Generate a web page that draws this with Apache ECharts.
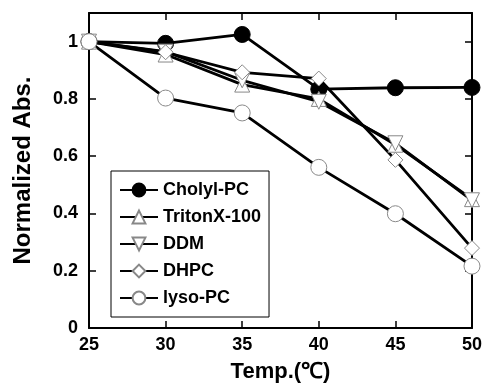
<!DOCTYPE html>
<html><head><meta charset="utf-8">
<script src="https://cdn.jsdelivr.net/npm/echarts@6/dist/echarts.min.js"></script>
<style>html,body{margin:0;padding:0;background:#fff}#c{width:485px;height:388px}</style>
</head><body><div id="c"></div>
<script>
const temps = [25, 30, 35, 40, 45, 50];
const cholylPC = [1.0, 0.994, 1.025, 0.834, 0.839, 0.84];
const tritonX100 = [1.0, 0.955, 0.85, 0.80, 0.64, 0.45];
const ddm = [1.0, 0.965, 0.865, 0.79, 0.645, 0.446];
const dhpc = [1.0, 0.963, 0.893, 0.871, 0.587, 0.279];
const lysoPC = [1.0, 0.803, 0.751, 0.561, 0.399, 0.216];
const seriesNames = ['Cholyl-PC', 'TritonX-100', 'DDM', 'DHPC', 'lyso-PC'];
const font = 'Liberation Sans, Arial, sans-serif';

function mk(name, vals, symbol, size, filled) {
  return {
    name: name, type: 'line', data: temps.map((t, i) => [t, vals[i]]),
    symbol: symbol, symbolSize: size,
    lineStyle: { color: '#000', width: 2.8 },
    itemStyle: filled ? { color: '#000', borderColor: '#000', borderWidth: 1 }
                      : { color: '#fff', borderColor: '#888', borderWidth: 1 },
    emphasis: { disabled: true }, animation: false
  };
}
const chart = echarts.init(document.getElementById('c'));
const axisLine = { show: true, onZero: false, lineStyle: { color: '#000', width: 2 } };
const tick = { show: true, inside: true, length: 7, lineStyle: { color: '#000', width: 1.5 } };
chart.setOption({
  animation: false,
  grid: { left: 89, right: 13, top: 13, bottom: 55 },
  legend: {
    left: 111, top: 171, orient: 'vertical', itemGap: 9, itemWidth: 38, itemHeight: 16,
    borderColor: '#000', borderWidth: 1, padding: [10, 8, 10, 8],
    data: seriesNames,
    textStyle: { fontFamily: font, fontWeight: 'bold', fontSize: 18, color: '#000' }
  },
  xAxis: [
    { type: 'value', min: 25, max: 50, interval: 5, axisLine: axisLine, axisTick: tick,
      axisLabel: { fontFamily: font, fontWeight: 'bold', fontSize: 18, color: '#000', margin: 8 },
      splitLine: { show: false },
      name: 'Temp.(℃)', nameLocation: 'middle', nameGap: 33,
      nameTextStyle: { fontFamily: font, fontWeight: 'bold', fontSize: 22, color: '#000' } },
    { type: 'value', position: 'top', min: 25, max: 50, interval: 5, axisLine: axisLine, axisTick: tick,
      axisLabel: { show: false }, splitLine: { show: false } }
  ],
  yAxis: [
    { type: 'value', min: 0, max: 1.1, interval: 0.2, axisLine: axisLine, axisTick: tick,
      axisLabel: { fontFamily: font, fontWeight: 'bold', fontSize: 18, color: '#000', margin: 11,
        formatter: v => v > 1.05 ? '' : (Math.abs(v - 1) < 1e-9 ? '1' : (v === 0 ? '0' : v.toFixed(1))) },
      splitLine: { show: false },
      name: 'Normalized Abs.', nameLocation: 'middle', nameGap: 54,
      nameTextStyle: { fontFamily: font, fontWeight: 'bold', fontSize: 24, color: '#000' } },
    { type: 'value', position: 'right', min: 0, max: 1.1, interval: 0.2, axisLine: axisLine, axisTick: tick,
      axisLabel: { show: false }, splitLine: { show: false } }
  ],
  series: [
    mk('Cholyl-PC', cholylPC, 'circle', 16, true),
    mk('TritonX-100', tritonX100, 'triangle', 15, false),
    Object.assign(mk('DDM', ddm, 'triangle', 15, false), { symbolRotate: 180 }),
    mk('DHPC', dhpc, 'path://M5,0 L10,5 L5,10 L0,5 Z', 15, false),
    mk('lyso-PC', lysoPC, 'circle', 16, false)
  ]
});
</script></body></html>
